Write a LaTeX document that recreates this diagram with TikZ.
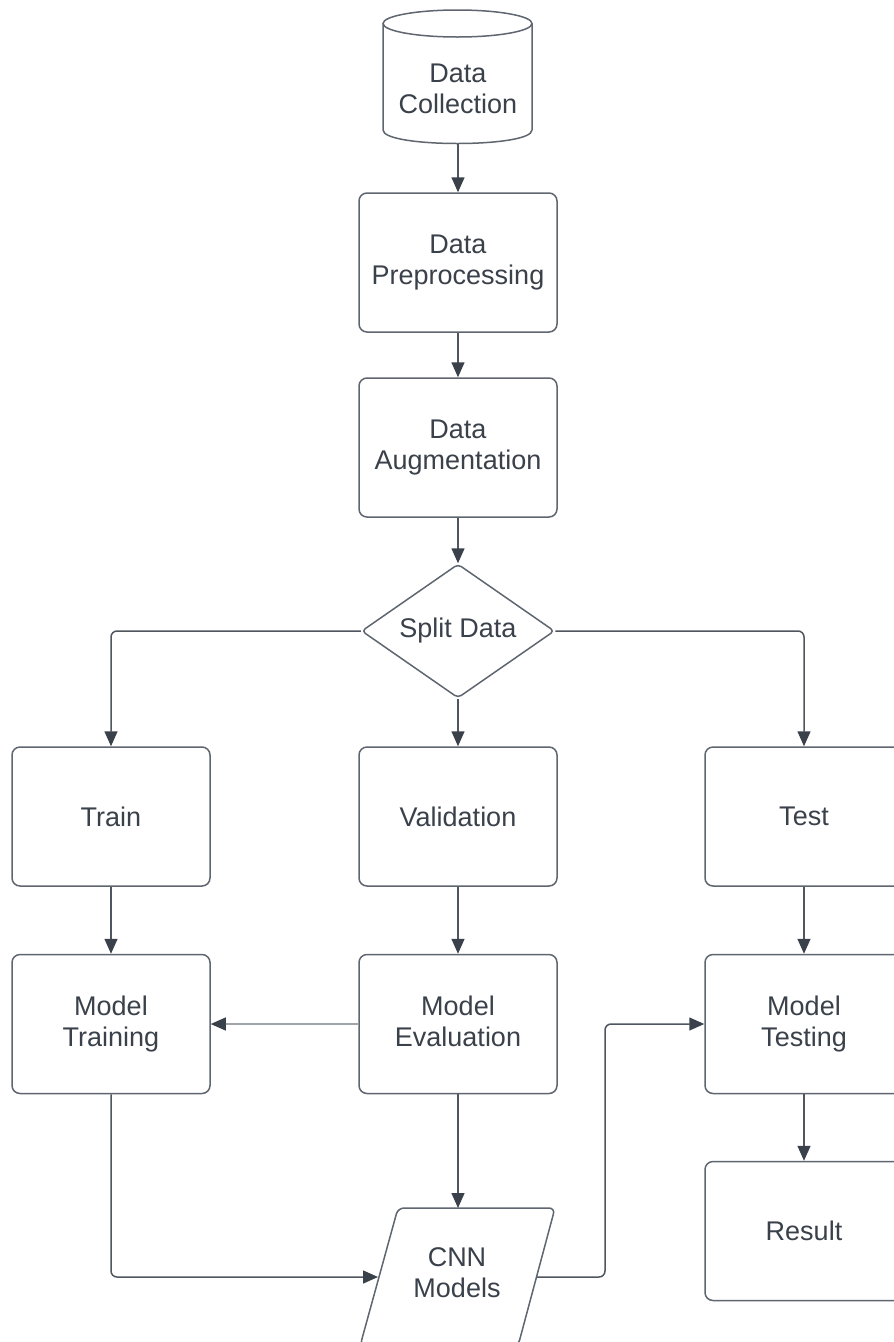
\documentclass[tikz,border=0pt]{standalone}
\usepackage{fontspec}
\setmainfont{Liberation Sans}
\usetikzlibrary{arrows.meta,shapes.geometric}
\definecolor{txt}{HTML}{3A414A}
\definecolor{bord}{HTML}{5F6670}
\definecolor{lin}{HTML}{4F5660}
\definecolor{arr}{HTML}{3A414A}
\definecolor{thinl}{HTML}{A0A5AB}
\tikzset{
  lbl/.style={text=txt, align=center, font=\fontsize{27}{31}\selectfont},
  box/.style={lbl, draw=bord, line width=1.5pt, rounded corners=8pt,
    minimum width=198pt, minimum height=139pt, inner sep=0pt},
  conn/.style={draw=lin, line width=1.5pt, rounded corners=6pt,
    -{Triangle[length=15pt,width=13pt,color=arr]}},
  thinconn/.style={draw=thinl, line width=1.1pt,
    -{Triangle[length=15pt,width=13pt,color=arr]}},
  shapeline/.style={draw=bord, line width=1.5pt},
}
\begin{document}
\begin{tikzpicture}[x=1pt,y=-1pt]
\useasboundingbox[fill=white] (0,0) rectangle (894,1342);
% cylinder
\draw[shapeline] (383,23.5) -- (383,130) .. controls (383,148) and (532,148) .. (532,130) -- (532,23.5);
\draw[shapeline] (457.5,23.5) ellipse [x radius=74.5, y radius=13.5];
\node[lbl, minimum width=149pt, minimum height=111pt, inner sep=0pt] (dc) at (458,88.5) {Data\\Collection};
% boxes
\node[box] (pre) at (458,262.5) {Data\\Preprocessing};
\node[box] (aug) at (458,447.5) {Data\\Augmentation};
\node[lbl, draw=bord, line width=1.5pt, shape=diamond, aspect=1.44, minimum width=193pt, minimum height=134pt, inner sep=0pt, rounded corners=4pt] (split) at (458,631) {Split Data};
\node[box] (train) at (111,816.5) {Train};
\node[box] (val) at (458,816.5) {Validation};
\node[box] (test) at (804,816.5) {Test};
\node[box] (mtr) at (111,1024) {Model\\Training};
\node[box] (mev) at (458,1024) {Model\\Evaluation\vphantom{g}};
\node[box] (mte) at (804,1024) {Model\\Testing};
\node[box] (res) at (804,1231) {Result};
% parallelogram
\draw[shapeline, rounded corners=6pt] (398,1208) -- (555,1208) -- (518,1346) -- (360,1346) -- cycle;
\node[lbl] (cnn) at (457,1273) {CNN\\Models};
\coordinate (cnnT) at (458,1208);
\coordinate (cnnL) at (378,1277);
\coordinate (cnnR) at (537,1277);
\coordinate (bend) at (605,1277);
% connectors
\draw[conn] (dc.south) -- (pre.north);
\draw[conn] (pre.south) -- (aug.north);
\draw[conn] (aug.south) -- (split.north);
\draw[conn] (split.west) -| (train.north);
\draw[conn] (split.east) -| (test.north);
\draw[conn] (split.south) -- (val.north);
\draw[conn] (train.south) -- (mtr.north);
\draw[conn] (val.south) -- (mev.north);
\draw[conn] (test.south) -- (mte.north);
\draw[thinconn] (mev.west) -- (mtr.east);
\draw[conn] (mev.south) -- (cnnT);
\draw[conn] (mtr.south) |- (cnnL);
\draw[conn] (cnnR) -- (bend) |- (mte.west);
\draw[conn] (mte.south) -- (res.north);
\end{tikzpicture}
\end{document}
